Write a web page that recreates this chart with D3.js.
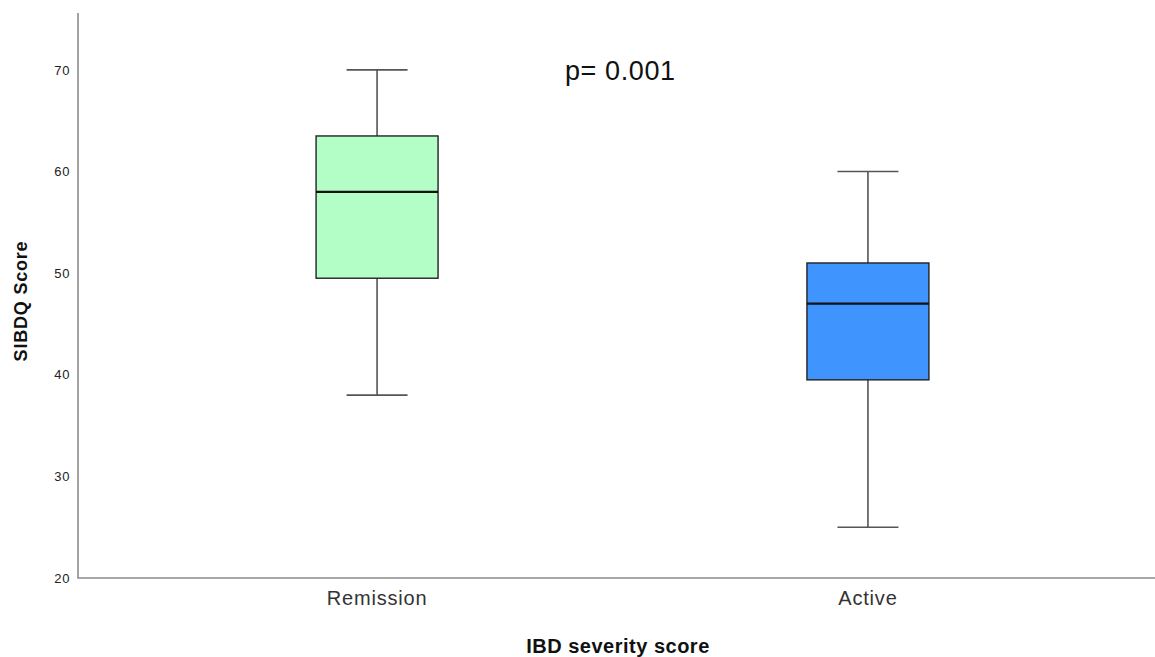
<!DOCTYPE html>
<html>
<head>
<meta charset="utf-8">
<script src="https://cdn.jsdelivr.net/npm/d3@7"></script>
<style>
  body { margin: 0; background: #fff; }
  svg { font-family: Arial, "Liberation Sans", sans-serif; }
</style>
</head>
<body>
<svg id="chart" width="1155" height="657"></svg>
<script>
const categories = ['Remission', 'Active'];
const whiskerLow = [38, 25];
const q1 = [49.5, 39.5];
const medians = [58, 47];
const q3 = [63.5, 51];
const whiskerHigh = [70, 60];
const yTicks = [20, 30, 40, 50, 60, 70];
const boxColors = ['#b3fdc7', '#4094fe'];
const pText = 'p= 0.001';

const svg = d3.select('#chart');
const margin = { top: 13, left: 78, bottom: 78 };
const height = 657;

const y = d3.scaleLinear()
  .domain([20, 75.6])
  .range([height - margin.bottom - 1, margin.top]);

const x = d3.scaleBand()
  .domain(categories)
  .range([margin.left, 1167])
  .paddingInner(0.7515)
  .paddingOuter(0.485);

const data = categories.map((c, i) => ({
  cat: c, lo: whiskerLow[i], q1: q1[i], med: medians[i], q3: q3[i], hi: whiskerHigh[i], color: boxColors[i]
}));

// y axis
const yAxis = svg.append('g')
  .attr('transform', `translate(${margin.left}, 0)`)
  .call(d3.axisLeft(y).tickValues(yTicks).tickSize(0).tickPadding(8));
yAxis.select('.domain').remove();
yAxis.selectAll('text')
  .attr('font-size', 13)
  .attr('letter-spacing', 0.6)
  .attr('fill', '#222')
  .attr('font-family', 'Arial, "Liberation Sans", sans-serif');

// x axis
const xAxis = svg.append('g')
  .attr('transform', `translate(0, ${y(20)})`)
  .call(d3.axisBottom(x).tickSize(0).tickPadding(13));
xAxis.select('.domain').remove();
xAxis.selectAll('text')
  .attr('font-size', 20)
  .attr('letter-spacing', 0.8)
  .attr('fill', '#333')
  .attr('font-family', 'Arial, "Liberation Sans", sans-serif');

// axis lines
svg.append('path')
  .attr('d', `M${margin.left},${margin.top}V${y(20)}H1155`)
  .attr('fill', 'none')
  .attr('stroke', '#8c8c8c')
  .attr('stroke-width', 1.6);

const g = svg.append('g');
const cx = d => x(d.cat) + x.bandwidth() / 2;
const capHalf = x.bandwidth() / 4;

// whiskers
g.selectAll('.whisker')
  .data(data)
  .join('path')
  .attr('d', d => `M${cx(d)},${y(d.hi)}V${y(d.q3)}M${cx(d)},${y(d.q1)}V${y(d.lo)}` +
    `M${cx(d) - capHalf},${y(d.hi)}H${cx(d) + capHalf}M${cx(d) - capHalf},${y(d.lo)}H${cx(d) + capHalf}`)
  .attr('fill', 'none')
  .attr('stroke', '#555')
  .attr('stroke-width', 1.6);

// boxes
g.selectAll('.box')
  .data(data)
  .join('rect')
  .attr('x', d => x(d.cat))
  .attr('y', d => y(d.q3))
  .attr('width', x.bandwidth())
  .attr('height', d => y(d.q1) - y(d.q3))
  .attr('fill', d => d.color)
  .attr('stroke', '#222')
  .attr('stroke-width', 1.4);

// medians
g.selectAll('.median')
  .data(data)
  .join('line')
  .attr('x1', d => x(d.cat))
  .attr('x2', d => x(d.cat) + x.bandwidth())
  .attr('y1', d => y(d.med))
  .attr('y2', d => y(d.med))
  .attr('stroke', '#111')
  .attr('stroke-width', 2.2);

// p value
svg.append('text')
  .attr('x', 565)
  .attr('y', 80)
  .attr('font-size', 27)
  .attr('letter-spacing', 0.6)
  .attr('fill', '#111')
  .text(pText);

// axis titles
svg.append('text')
  .attr('x', 618)
  .attr('y', 653)
  .attr('text-anchor', 'middle')
  .attr('font-size', 20)
  .attr('letter-spacing', 0.5)
  .attr('font-weight', 'bold')
  .attr('fill', '#111')
  .text('IBD severity score');

svg.append('text')
  .attr('transform', 'translate(27, 301) rotate(-90)')
  .attr('text-anchor', 'middle')
  .attr('font-size', 18)
  .attr('letter-spacing', 0.8)
  .attr('font-weight', 'bold')
  .attr('fill', '#111')
  .text('SIBDQ Score');
</script>
</body>
</html>
